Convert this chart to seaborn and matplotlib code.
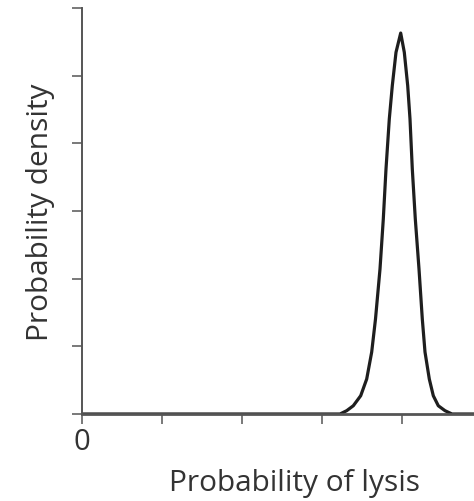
import matplotlib
matplotlib.use("Agg")
import matplotlib.pyplot as plt
import seaborn as sns
import pandas as pd

# Values (x: probability of lysis, y: density in tick units)
lysis_prob = [0.0, 0.3, 0.6, 0.645, 0.66175, 0.67825, 0.69675, 0.71175, 0.72425,
              0.73375, 0.745, 0.75325, 0.760, 0.76825, 0.77575, 0.785, 0.79675,
              0.80575, 0.81425, 0.820, 0.82575, 0.83325, 0.8425, 0.85075, 0.8575,
              0.86825, 0.87825, 0.89075, 0.9075, 0.925, 0.96, 1.0]
density = [0.0, 0.0, 0.0, 0.0, 0.049, 0.122, 0.270, 0.517, 0.916,
           1.404, 2.143, 2.882, 3.621, 4.360, 4.852, 5.345, 5.630,
           5.345, 4.852, 4.360, 3.621, 2.882, 2.143, 1.404, 0.916,
           0.517, 0.270, 0.122, 0.049, 0.0, 0.0, 0.0]
x_ticks = [0.0, 0.2, 0.4, 0.6, 0.8]
x_tick_labels = ["0", "", "", "", ""]
y_ticks = [0, 1, 2, 3, 4, 5, 6]

df = pd.DataFrame({"x": lysis_prob, "y": density})

sns.set_style("ticks")
plt.rcParams["font.family"] = ["Open Sans", "DejaVu Sans"]

fig = plt.figure(figsize=(4.74, 5.02), dpi=100)
ax = fig.add_axes([82 / 474, 87 / 502, 1 - 82 / 474, (415 - 9) / 502])

sns.lineplot(data=df, x="x", y="y", ax=ax, color="#1e1e1e", linewidth=2.3,
             estimator=None, sort=False, solid_joinstyle="round",
             solid_capstyle="round")

ax.set_xlim(0, 0.98)
ax.set_ylim(0, 6)
ax.set_xticks(x_ticks)
ax.set_xticklabels(x_tick_labels)
ax.set_yticks(y_ticks)
ax.set_yticklabels([])

for side in ["top", "right"]:
    ax.spines[side].set_visible(False)
for side in ["left", "bottom"]:
    ax.spines[side].set_color("#555555")
    ax.spines[side].set_linewidth(1.4)
ax.spines["bottom"].set_linewidth(2.0)

ax.tick_params(axis="both", direction="out", length=7.5, width=1.1,
               color="#555555", labelsize=21, labelcolor="#333333", pad=2)

ax.set_xlabel("Probability of lysis", fontsize=21.5, color="#333333", labelpad=10)
ax.xaxis.set_label_coords(0.541, -0.132)
ax.set_ylabel("Probability density", fontsize=21.5, color="#333333", labelpad=10)

fig.savefig("out.png", dpi=100)
